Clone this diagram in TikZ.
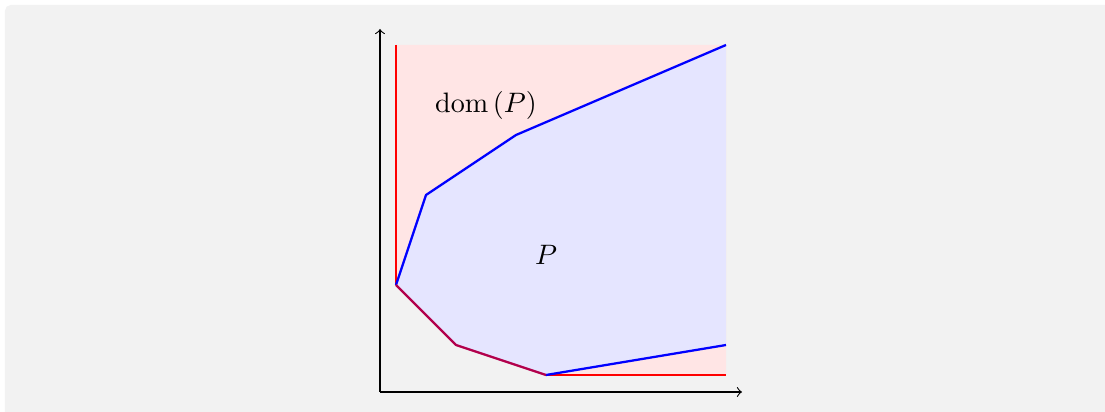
\documentclass[tikz,border=0pt]{standalone}
\definecolor{bggray}{HTML}{F2F2F2}
\colorlet{overlap}{red!70!blue}
\tikzset{
  domfill/.style={fill=red!10},
  polyfill/.style={fill=blue!10},
  domline/.style={draw=red,thick,line join=round},
  polyline/.style={draw=blue,thick,line join=round},
  bothline/.style={draw=overlap,thick,line join=round},
  axis/.style={->,thin}
}
\begin{document}
\begin{tikzpicture}[x=0.375cm,y=0.375cm]
\useasboundingbox (-13.2,-4.2333) rectangle (23.6333,9.5);
\fill[bggray,rounded corners=2pt] (-13.0333,-4.6) rectangle (24,9.3333);
% points
\coordinate (v0) at (0,0);
\coordinate (v1) at (1,3);
\coordinate (v2) at (4,5);
\coordinate (v3) at (11,8);
\coordinate (v4) at (11,-2);
\coordinate (v5) at (5,-3);
\coordinate (v6) at (2,-2);
\coordinate (dtop) at (0,8);
\coordinate (dbr) at (11,-3);
\coordinate (o) at (-0.5333,-3.5667);
\coordinate (xe) at (11.5333,-3.5667);
\coordinate (ye) at (-0.5333,8.5333);
% fills
\path[domfill] (dtop) -- (v0) -- (v6) -- (v5) -- (dbr) -- (v3) -- cycle;
\path[polyfill] (v0) -- (v1) -- (v2) -- (v3) -- (v4) -- (v5) -- (v6) -- cycle;
% boundaries
\draw[domline] (dtop) -- (v0);
\draw[domline] (v5) -- (dbr);
\draw[polyline] (v0) -- (v1) -- (v2) -- (v3);
\draw[polyline] (v4) -- (v5);
\draw[bothline] (v0) -- (v6) -- (v5);
% axes
\draw[axis] (o) -- (xe);
\draw[axis] (o) -- (ye);
% labels
\node (domlabel) at (3,6) {$\mathrm{dom}\,(P)$};
\node (plabel) at (5,1) {$P$};
\end{tikzpicture}
\end{document}
